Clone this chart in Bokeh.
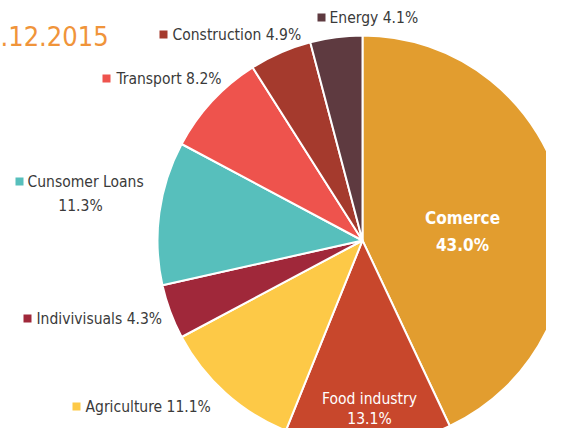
import numpy as np
from bokeh.plotting import figure
from bokeh.models import Range1d, ColumnDataSource
from bokeh.core.properties import value
from bokeh.embed import file_html
from bokeh.resources import INLINE

# ---- data ----
categories = ["Comerce", "Food industry", "Agriculture", "Indivivisuals",
              "Cunsomer Loans", "Transport", "Construction", "Energy"]
shares = [43.0, 13.1, 11.1, 4.3, 11.3, 8.2, 4.9, 4.1]
colors = ["#E29D2F", "#C8472C", "#FDC947", "#A0283A",
          "#57BFBC", "#EE534D", "#A53A2D", "#5E3A40"]
title_text = ".12.2015"

# ---- layout (pixel coordinates from the top-left of the figure) ----
W, H = 546, 428
FONT = "DejaVu Sans Condensed"
cx, cy, R = 362, 240, 205

def Y(sy):
    return H - sy

p = figure(width=W, height=H, output_backend="svg", toolbar_location=None,
           x_range=Range1d(0, W), y_range=Range1d(0, H), min_border=0)
p.axis.visible = False
p.grid.visible = False
p.outline_line_color = None
p.background_fill_color = "white"

vals = np.array(shares)
frac = vals / vals.sum()
cum_end = np.cumsum(frac)
cum_start = cum_end - frac
start = np.pi / 2 - 2 * np.pi * cum_start
end = np.pi / 2 - 2 * np.pi * cum_end

src = ColumnDataSource(dict(start=start, end=end, color=colors))
p.wedge(x=cx, y=Y(cy), radius=R, start_angle="start", end_angle="end",
        direction="clock", fill_color="color", line_color="white", line_width=2,
        source=src)

# inside labels
inside = {0: (462, 217, 244, "bold", "17px"), 1: (369, 398, 418, "normal", "15.5px")}
for i, (lx, ly1, ly2, style, fs) in inside.items():
    p.text(x=[lx, lx], y=[Y(ly1), Y(ly2)],
           text=[categories[i], f"{shares[i]:.1f}%"],
           text_align="center", text_baseline="middle",
           text_font=value(FONT), text_font_size=fs,
           text_font_style=style, text_color="white")

# outside labels: (index, square x, y, text x, two_line)
outside = [
    (7, 321, 17, 329, False),
    (6, 163, 34, 172, False),
    (5, 106, 78, 116, False),
    (4, 19, 181, 27, True),
    (3, 27, 318, 36, False),
    (2, 76, 406, 85, False),
]
for i, sx, sy, tx, two in outside:
    p.scatter(x=[sx], y=[Y(sy)], marker="square", size=8,
              fill_color=colors[i], line_color=None)
    if two:
        p.text(x=[tx], y=[Y(sy)], text=[categories[i]], text_align="left",
               text_baseline="middle", text_font=value(FONT), text_font_size="15.5px",
               text_color="#3A3A3A")
        p.text(x=[80], y=[Y(sy + 24)], text=[f"{shares[i]:.1f}%"], text_align="center",
               text_baseline="middle", text_font=value(FONT), text_font_size="15.5px",
               text_color="#3A3A3A")
    else:
        p.text(x=[tx], y=[Y(sy)], text=[f"{categories[i]} {shares[i]:.1f}%"],
               text_align="left", text_baseline="middle", text_font=value(FONT),
               text_font_size="15.5px", text_color="#3A3A3A")

# title (left part cropped in the reference)
p.text(x=[0], y=[Y(35)], text=[title_text], text_align="left", text_baseline="middle",
       text_font=value(FONT), text_font_size="27px", text_color="#F0943A")

open("out.html", "w").write(file_html(p, INLINE))
